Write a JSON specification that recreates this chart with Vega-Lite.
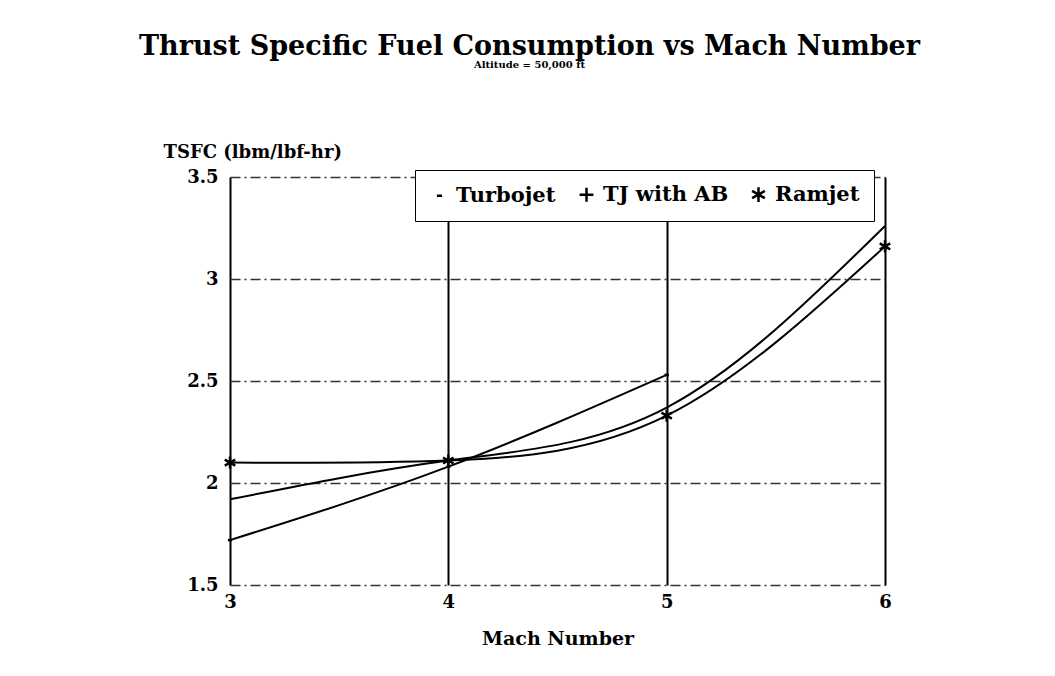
{
  "$schema": "https://vega.github.io/schema/vega-lite/v6.json",
  "autosize": {"type": "none"},
  "width": 655,
  "height": 408,
  "padding": {"left": 230, "top": 177, "right": 170, "bottom": 91},
  "background": "white",
  "title": {
    "text": "Thrust Specific Fuel Consumption vs Mach Number",
    "subtitle": "Altitude = 50,000 ft",
    "anchor": "middle",
    "frame": "group",
    "dx": -28,
    "offset": 72,
    "font": "DejaVu Serif",
    "fontSize": 27,
    "fontWeight": "bold",
    "color": "black",
    "subtitleFont": "DejaVu Serif",
    "subtitleFontSize": 10,
    "subtitleFontWeight": "bold",
    "subtitleColor": "black",
    "subtitlePadding": -1
  },
  "data": {
    "values": [
      {"mach": 3, "tsfc": 1.72, "engine": "Turbojet"},
      {"mach": 4, "tsfc": 2.08, "engine": "Turbojet"},
      {"mach": 5, "tsfc": 2.53, "engine": "Turbojet"},
      {"mach": 3, "tsfc": 1.92, "engine": "TJ with AB"},
      {"mach": 4, "tsfc": 2.11, "engine": "TJ with AB"},
      {"mach": 5, "tsfc": 2.37, "engine": "TJ with AB"},
      {"mach": 6, "tsfc": 3.26, "engine": "TJ with AB"},
      {"mach": 3, "tsfc": 2.1, "engine": "Ramjet"},
      {"mach": 4, "tsfc": 2.11, "engine": "Ramjet"},
      {"mach": 5, "tsfc": 2.33, "engine": "Ramjet"},
      {"mach": 6, "tsfc": 3.16, "engine": "Ramjet"}
    ]
  },
  "encoding": {
    "x": {
      "field": "mach",
      "type": "quantitative",
      "scale": {"domain": [3, 6], "nice": false, "zero": false},
      "axis": {
        "title": "Mach Number",
        "values": [3, 4, 5, 6],
        "format": "~g",
        "domain": false,
        "ticks": false,
        "grid": true,
        "gridColor": "black",
        "gridWidth": 2,
        "gridOpacity": 1,
        "labelFont": "DejaVu Serif",
        "labelFontWeight": "bold",
        "labelFontSize": 18,
        "labelColor": "black",
        "labelPadding": 8,
        "labelFlush": false,
        "titleFont": "DejaVu Serif",
        "titleFontWeight": "bold",
        "titleFontSize": 19,
        "titleColor": "black",
        "titlePadding": 18
      }
    },
    "y": {
      "field": "tsfc",
      "type": "quantitative",
      "scale": {"domain": [1.5, 3.5], "nice": false, "zero": false},
      "axis": {
        "title": "TSFC (lbm/lbf-hr)",
        "values": [1.5, 2, 2.5, 3, 3.5],
        "format": "~g",
        "domain": false,
        "ticks": false,
        "grid": true,
        "gridColor": "#333333",
        "gridWidth": 1.3,
        "gridDash": [10, 4, 2, 4],
        "gridOpacity": 1,
        "labelFont": "DejaVu Serif",
        "labelFontWeight": "bold",
        "labelFontSize": 18,
        "labelColor": "black",
        "labelPadding": 12,
        "labelFlush": false,
        "titleFont": "DejaVu Serif",
        "titleFontWeight": "bold",
        "titleFontSize": 18,
        "titleColor": "black",
        "titleAngle": 0,
        "titleAlign": "left",
        "titleBaseline": "alphabetic",
        "titleX": -67,
        "titleY": -20
      }
    }
  },
  "layer": [
    {
      "mark": {"type": "line", "interpolate": "natural", "color": "black", "strokeWidth": 2},
      "encoding": {"detail": {"field": "engine"}}
    },
    {
      "transform": [{"filter": "datum.engine !== 'TJ with AB'"}],
      "mark": {"type": "point", "filled": false, "stroke": "black", "strokeWidth": 2.5, "opacity": 1, "size": 200},
      "encoding": {
        "shape": {
          "field": "engine",
          "type": "nominal",
          "scale": {
            "domain": ["Turbojet", "TJ with AB", "Ramjet"],
            "range": ["M-0.3,0L0.3,0", "M-0.8,0L0.8,0M0,-0.8L0,0.8", "M0,-0.85L0,0.85M-0.74,-0.42L0.74,0.42M-0.74,0.42L0.74,-0.42"]
          },
          "legend": {
            "title": null,
            "orient": "none",
            "legendX": 185,
            "legendY": -7,
            "direction": "horizontal",
            "columns": 3,
            "columnPadding": 18,
            "padding": 14,
            "strokeColor": "black",
            "fillColor": "white",
            "labelFont": "DejaVu Serif",
            "labelFontWeight": "bold",
            "labelFontSize": 21,
            "labelColor": "black",
            "labelOffset": 6,
            "symbolSize": 300,
            "symbolStrokeColor": "black",
            "symbolStrokeWidth": 2.5,
            "symbolFillColor": "transparent",
            "symbolOpacity": 1
          }
        }
      }
    }
  ],
  "config": {
    "view": {"stroke": null}
  }
}
